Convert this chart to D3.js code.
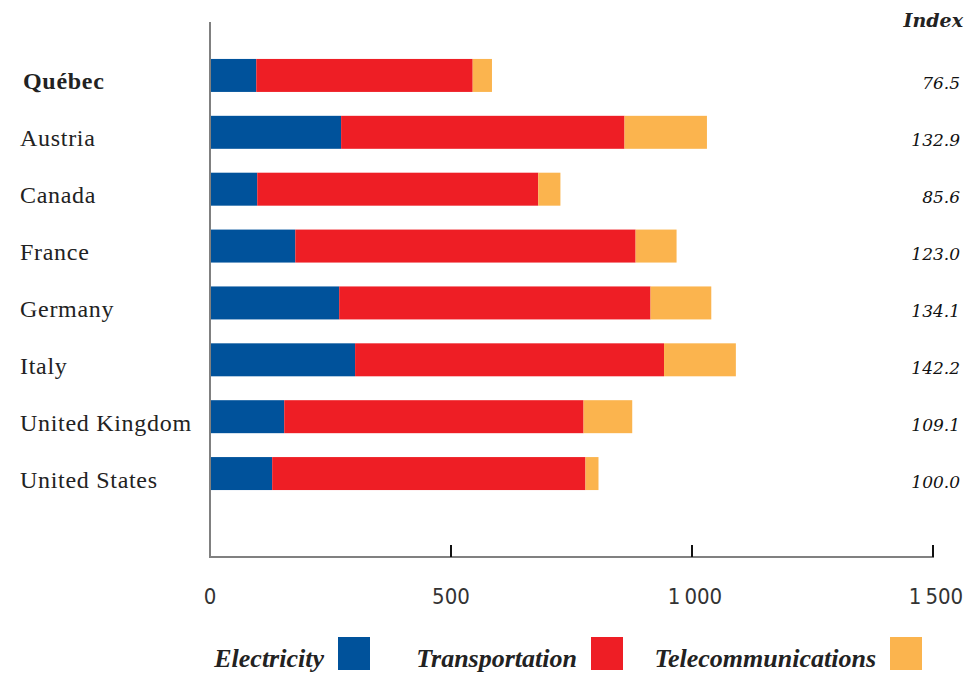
<!DOCTYPE html>
<html>
<head>
<meta charset="utf-8">
<script src="https://cdn.jsdelivr.net/npm/d3@7"></script>
<style>
  body { margin: 0; background: #fff; }
  svg { display: block; }
</style>
</head>
<body>
<div id="chart"></div>
<script>
var width = 979,
    height = 674;

// data
var countries = ["Québec", "Austria", "Canada", "France", "Germany", "Italy", "United Kingdom", "United States"];
var electricity = [96, 272, 98, 177, 268, 301, 154, 129];
var transportation = [449, 588, 583, 706, 646, 641, 621, 650];
var telecom = [40, 171, 46, 85, 126, 149, 101, 27];
var indexValues = ["76.5", "132.9", "85.6", "123.0", "134.1", "142.2", "109.1", "100.0"];
var seriesNames = ["Electricity", "Transportation", "Telecommunications"];
var seriesColors = ["#00529b", "#ee1e25", "#fbb44e"];
var tickValues = [0, 500, 1000, 1500];

var svg = d3.select("#chart")
    .append("svg")
    .attr("width", width)
    .attr("height", height);

var x = d3.scaleLinear()
    .domain([0, 1500])
    .range([210, 933]);

var y = d3.scaleBand()
    .domain(countries)
    .range([47, 502])
    .paddingInner(0.42)
    .paddingOuter(0.21);

var rows = countries.map(function(c, i) {
    return { country: c, Electricity: electricity[i], Transportation: transportation[i], Telecommunications: telecom[i] };
});

var stack = d3.stack().keys(seriesNames);
var layers = stack(rows);

svg.selectAll(".layer")
    .data(layers)
    .enter().append("g")
    .attr("class", "layer")
    .attr("fill", function(d, i) { return seriesColors[i]; })
    .selectAll("rect")
    .data(function(d) { return d; })
    .enter().append("rect")
    .attr("x", function(d) { return x(d[0]); })
    .attr("width", function(d) { return x(d[1]) - x(d[0]); })
    .attr("y", function(d) { return y(d.data.country); })
    .attr("height", y.bandwidth());

// axes lines
svg.append("line")
    .attr("x1", x(0)).attr("x2", x(0))
    .attr("y1", 22).attr("y2", 557)
    .attr("stroke", "#808080").attr("stroke-width", 2);

svg.append("line")
    .attr("x1", x(0) - 1).attr("x2", x(1500) + 1)
    .attr("y1", 557).attr("y2", 557)
    .attr("stroke", "#808080").attr("stroke-width", 2);

svg.selectAll(".tick")
    .data(tickValues.filter(function(d) { return d > 0; }))
    .enter().append("line")
    .attr("class", "tick")
    .attr("x1", function(d) { return x(d); })
    .attr("x2", function(d) { return x(d); })
    .attr("y1", 545).attr("y2", 557)
    .attr("stroke", "#111").attr("stroke-width", 2);

var fmt = function(d) { return d3.format(",")(d).replace(",", "\u2009"); };

svg.selectAll(".tick-label")
    .data(tickValues)
    .enter().append("text")
    .attr("class", "tick-label")
    .attr("x", function(d) { return x(d) + (d >= 1000 ? 3 : 0); })
    .attr("y", 604)
    .attr("text-anchor", "middle")
    .attr("font-family", "'DejaVu Sans Condensed', 'DejaVu Sans', sans-serif")
    .attr("font-stretch", "condensed")
    .attr("font-size", 22)
    .attr("fill", "#333")
    .text(fmt);

// country labels
svg.selectAll(".country")
    .data(countries)
    .enter().append("text")
    .attr("class", "country")
    .attr("x", function(d, i) { return i == 0 ? 23 : 20; })
    .attr("y", function(d) { return y(d) + y.bandwidth() / 2 + 14; })
    .attr("font-family", "'Liberation Serif', serif")
    .attr("font-size", 24)
    .attr("letter-spacing", 0.7)
    .attr("font-weight", function(d, i) { return i == 0 ? "bold" : "normal"; })
    .attr("fill", "#222")
    .text(function(d) { return d; });

// index column
svg.append("text")
    .attr("x", 963)
    .attr("y", 27)
    .attr("text-anchor", "end")
    .attr("font-family", "'DejaVu Serif', serif")
    .attr("font-style", "italic")
    .attr("font-weight", "bold")
    .attr("font-size", 19)
    .attr("fill", "#222")
    .text("Index");

svg.selectAll(".index")
    .data(indexValues)
    .enter().append("text")
    .attr("class", "index")
    .attr("x", 960)
    .attr("y", function(d, i) { return y(countries[i]) + y.bandwidth() / 2 + 14; })
    .attr("text-anchor", "end")
    .attr("font-family", "'DejaVu Serif', serif")
    .attr("font-style", "italic")
    .attr("font-size", 17)
    .attr("fill", "#111")
    .text(function(d) { return d; });

// legend
var legendX = [338, 591, 890];
var legend = svg.selectAll(".legend")
    .data(seriesNames)
    .enter().append("g")
    .attr("class", "legend")
    .attr("transform", function(d, i) { return "translate(" + legendX[i] + ",637)"; });

legend.append("rect")
    .attr("width", 32)
    .attr("height", 33)
    .attr("fill", function(d, i) { return seriesColors[i]; });

legend.append("text")
    .attr("x", -14)
    .attr("y", 30)
    .attr("text-anchor", "end")
    .attr("font-family", "'Liberation Serif', serif")
    .attr("font-style", "italic")
    .attr("font-weight", "bold")
    .attr("font-size", 26)
    .attr("fill", "#222")
    .text(function(d) { return d; });
</script>
</body>
</html>
